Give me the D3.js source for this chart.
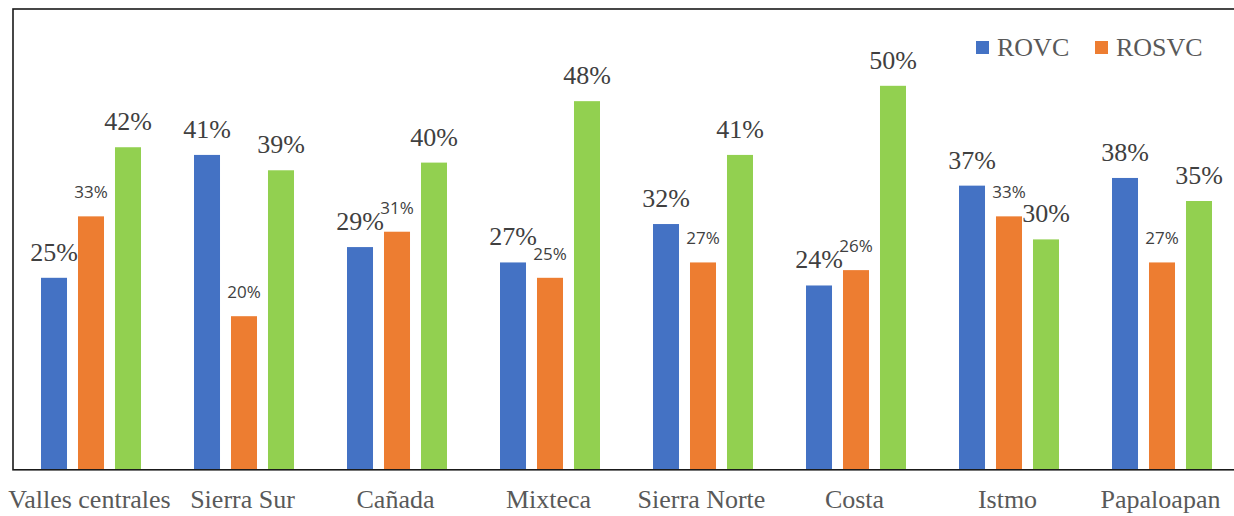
<!DOCTYPE html>
<html>
<head>
<meta charset="utf-8">
<script src="https://cdn.jsdelivr.net/npm/d3@7"></script>
<style>
  body { margin: 0; background: #fff; font-family: "Liberation Serif", serif; }
  #chart text { font-family: "Liberation Serif", "Times New Roman", serif !important; }
  #chart text.sans { font-family: "Open Sans", "Noto Sans", sans-serif !important; }
</style>
</head>
<body>
<svg id="chart" width="1234" height="516"></svg>
<script>
// regions on the x axis
const regions = ["Valles centrales", "Sierra Sur", "Cañada", "Mixteca", "Sierra Norte", "Costa", "Istmo", "Papaloapan"];
// series values (percent)
const rovc  = [25, 41, 29, 27, 32, 24, 37, 38];
const rosvc = [33, 20, 31, 25, 27, 26, 33, 27];
const third = [42, 39, 40, 48, 41, 50, 30, 35];
const seriesNames = ["ROVC", "ROSVC", "Serie3"];
const legendNames = ["ROVC", "ROSVC"];
const colors = ["#4472C4", "#ED7D31", "#92D050"];

let svg = d3.select("#chart");
let margin = {"left": 13, "top": 9, "bottom": 46, "right": -3};
let width = 1234, height = 516;

let rows = regions.map((r, i) => ({region: r, values: [rovc[i], rosvc[i], third[i]]}));

let x0 = d3.scaleBand()
	.domain(regions)
	.range([margin.left, width - margin.right]);
let x1 = d3.scaleBand()
	.domain(seriesNames)
	.range([28, 128])
	.paddingInner(0.297);
let y = d3.scaleLinear()
	.domain([0, 60])
	.range([height - margin.bottom - 0.2, margin.top]);

// bars
let groups = svg.append("g").selectAll("g.grp")
	.data(rows)
	.enter()
	.append("g")
	.attr("class", "grp")
	.attr("transform", d => "translate(" + x0(d.region) + ",0)");

groups.selectAll("rect")
	.data(d => d.values.map((v, k) => ({v: v, k: k})))
	.enter()
	.append("rect")
	.attr("x", d => x1(seriesNames[d.k]))
	.attr("width", x1.bandwidth())
	.attr("y", d => y(d.v))
	.attr("height", d => y(0) - y(d.v))
	.attr("fill", d => colors[d.k]);

// value labels: blue and green in serif, orange in sans
groups.selectAll("text.val")
	.data(d => d.values.map((v, k) => ({v: v, k: k})))
	.enter()
	.append("text")
	.attr("class", d => d.k == 1 ? "val sans" : "val")
	.attr("text-anchor", "middle")
	.attr("x", d => x1(seriesNames[d.k]) + x1.bandwidth() / 2)
	.attr("y", d => y(d.v) - (d.k == 1 ? 18 : 17))
	.attr("fill", "#404040")
	.attr("font-size", d => d.k == 1 ? 17 : 26)
	.text(d => d.v + "%");

// frame
svg.append("rect")
	.attr("x", margin.left)
	.attr("y", margin.top)
	.attr("width", x0.range()[1] - margin.left)
	.attr("height", y(0) - margin.top)
	.attr("fill", "none")
	.attr("stroke", "#1a1a1a")
	.attr("stroke-width", 1.6);

// category labels
let axis = d3.axisBottom(x0).tickSize(0).tickPadding(0);
let ax = svg.append("g")
	.attr("transform", "translate(0," + y(0) + ")")
	.call(axis)
	.attr("font-size", 26);
ax.select(".domain").remove();
ax.selectAll("text")
	.attr("dy", 0)
	.attr("y", 38)
	.attr("fill", "#595959");

// legend
let legendX = [976, 1095];
let legend = svg.append("g").selectAll("g.leg")
	.data(legendNames)
	.enter()
	.append("g")
	.attr("class", "leg")
	.attr("transform", (d, i) => "translate(" + legendX[i] + ",41)");
legend.append("rect")
	.attr("width", 13)
	.attr("height", 13)
	.attr("fill", (d, i) => colors[i]);
legend.append("text")
	.attr("x", 21)
	.attr("y", 15)
	.attr("fill", "#595959")
	.attr("font-size", 26)
	.text(d => d);
</script>
</body>
</html>
